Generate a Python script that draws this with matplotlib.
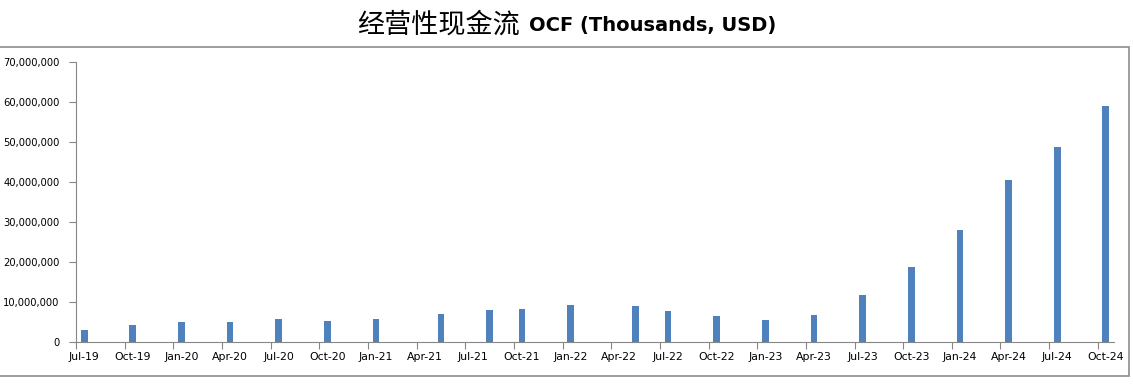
import numpy as np
import pandas as pd
import matplotlib
matplotlib.use("Agg")
from matplotlib import pyplot as plt
from matplotlib.patches import Rectangle
from matplotlib.ticker import FuncFormatter

# data (thousands USD)
months = ["2019-07", "2019-10", "2020-01", "2020-04", "2020-07", "2020-10",
          "2021-01", "2021-05", "2021-08", "2021-10", "2022-01", "2022-05",
          "2022-07", "2022-10", "2023-01", "2023-04", "2023-07", "2023-10",
          "2024-01", "2024-04", "2024-07", "2024-10"]
ocf = [3.1e6, 4.15e6, 4.9e6, 4.9e6, 5.65e6, 5.15e6,
       5.85e6, 6.9e6, 7.9e6, 8.15e6, 9.15e6, 8.9e6,
       7.65e6, 6.4e6, 5.6e6, 6.8e6, 11.8e6, 18.8e6,
       28.1e6, 40.6e6, 48.8e6, 59.1e6]
axis_start = "2019-07"
axis_end = "2024-10"

start = pd.Period(axis_start, freq="M")
end = pd.Period(axis_end, freq="M")
n_months = (end - start).n + 1
x = np.array([(pd.Period(m, freq="M") - start).n for m in months]) + 0.5

fig = plt.figure(figsize=(11.33, 3.87), dpi=100)
ax = fig.add_axes([76 / 1133, 45 / 387, (1114 - 76) / 1133, 280 / 387])

ax.bar(x, ocf, width=0.42, color="#4F81BD", zorder=2)

ax.set_xlim(0, n_months)
ax.set_ylim(0, 70e6)
ax.set_yticks(np.arange(0, 70e6 + 1, 10e6))
ax.yaxis.set_major_formatter(FuncFormatter(lambda v, p: f"{int(v):,}"))

# ticks between months, labels in the middle of the month slot
q = np.arange(0, n_months, 3)
ax.set_xticks(q)
ax.set_xticklabels([])
ax.set_xticks(q + 0.5, minor=True)
labels = [(start + int(i)).strftime("%b-%y") for i in q]
ax.set_xticklabels(labels, minor=True)
ax.tick_params(axis="x", which="major", direction="out", length=5, color="#868686")
ax.tick_params(axis="x", which="minor", length=0, pad=7, labelsize=7.8)
ax.tick_params(axis="y", direction="out", length=5, color="#868686", labelsize=7.2, pad=7)

for s in ["top", "right"]:
    ax.spines[s].set_visible(False)
for s in ["left", "bottom"]:
    ax.spines[s].set_color("#868686")

# chart border
fig.patches.append(Rectangle((-0.01, 11 / 387), 1129 / 1133 + 0.01, 329 / 387,
                             transform=fig.transFigure, fill=False,
                             edgecolor="#8c8c8c", lw=1.2))

fig.text(0.459, 0.935, "经营性现金流", ha="right", va="center", fontsize=19.5,
         family=["Noto Sans CJK SC", "DejaVu Sans"])
fig.text(0.467, 0.935, "OCF (Thousands, USD)", ha="left", va="center",
         fontsize=14, fontweight="bold", family="DejaVu Sans")

fig.savefig("out.png", dpi=100)
